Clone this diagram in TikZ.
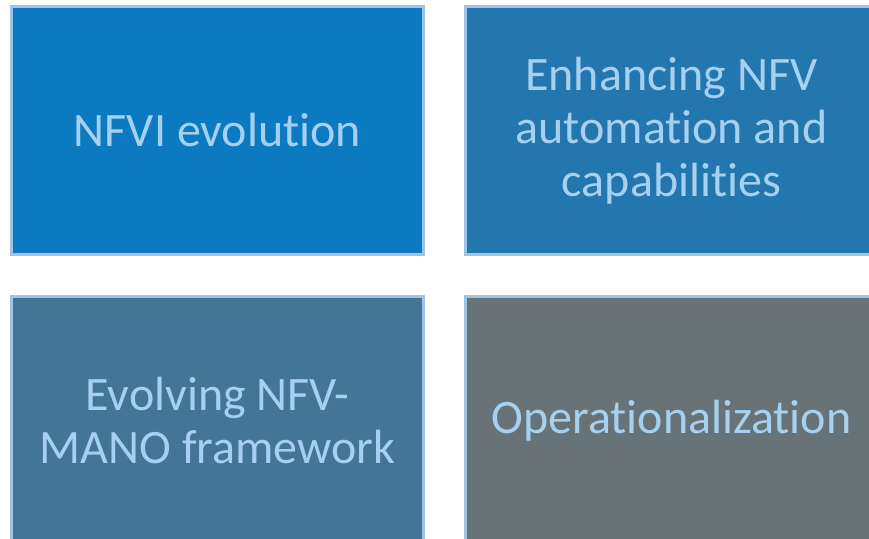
\documentclass[tikz,border=0pt]{standalone}
\usepackage{fontspec}
\setmainfont{Carlito}[Ligatures={NoCommon,NoRequired,NoContextual}]
\definecolor{edgeblue}{HTML}{9DC3E6}
\definecolor{txtblue}{HTML}{A6D0F0}
\definecolor{fillA}{HTML}{0B7AC1}
\definecolor{fillB}{HTML}{2477AE}
\definecolor{fillC}{HTML}{437594}
\definecolor{fillD}{HTML}{687378}
\tikzset{
  tile/.style={draw=edgeblue, line width=3pt, rectangle, minimum width=412pt, minimum height=248pt,
    inner sep=0pt, outer sep=0pt, align=center, text=txtblue,
    font=\fontsize{48pt}{53pt}\selectfont}
}
\begin{document}
\begin{tikzpicture}[x=1pt,y=-1pt]
\useasboundingbox (0,0) rectangle (869,538);
\clip (0,0) rectangle (869,538);
\node[tile, fill=fillA] (nfvi) at (217.5,130.5) {NFVI evolution};
\node[tile, fill=fillB] (enh) at (671.5,130.5) {Enhancing NFV\\automation and\\capabilities};
\node[tile, fill=fillC] (mano) at (217.5,420.5) {Evolving NFV-\\MANO framework};
\node[tile, fill=fillD] (ops) at (671.5,420.5) {Operationalization};
\end{tikzpicture}
\end{document}
